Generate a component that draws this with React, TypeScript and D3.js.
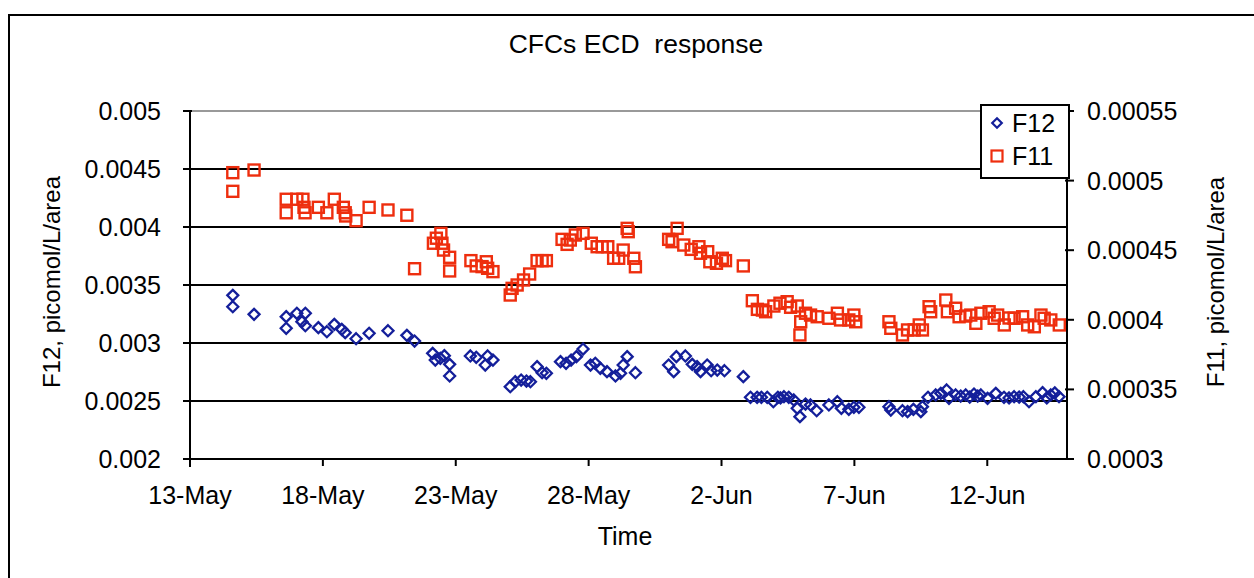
import React from "react";
import * as d3 from "d3";

// Time expressed as fractional day of May (32 = 1 Jun)
const f12Time = [
  14.61, 14.61, 15.41, 16.62, 16.62, 17.02, 17.21, 17.34, 17.34, 17.83, 18.15, 18.43, 18.71, 18.84, 19.25, 19.74,
  20.45, 21.16, 21.45, 22.13, 22.23, 22.42, 22.57, 22.77, 22.77, 23.55, 23.77, 24.11, 24.2, 24.4, 25.05, 25.24,
  25.46, 25.66, 25.81, 26.06, 26.25, 26.41, 26.94, 27.15, 27.34, 27.54, 27.79, 28.07, 28.25, 28.44, 28.69, 29.01,
  29.2, 29.3, 29.45, 29.76, 31.01, 31.2, 31.3, 31.64, 31.9, 32.08, 32.21, 32.46, 32.61, 32.84, 33.11, 33.82,
  34.09, 34.34, 34.5, 34.72, 34.95, 35.12, 35.22, 35.35, 35.53, 35.72, 35.85, 35.95, 36.16, 36.35, 36.58, 37.04,
  37.36, 37.51, 37.79, 37.98, 38.17, 39.3, 39.37, 39.81, 40.0, 40.22, 40.5, 40.56, 40.77, 41.06, 41.25, 41.47,
  41.56, 41.81, 42.0, 42.19, 42.34, 42.5, 42.64, 42.76, 43.01, 43.32, 43.63, 43.82, 44.01, 44.2, 44.36, 44.57,
  44.83, 45.08, 45.24, 45.39, 45.54, 45.7,
];
const f12Value = [
  0.003411, 0.003313, 0.003247, 0.003227, 0.003127, 0.003256, 0.003184, 0.003256, 0.003149, 0.003132, 0.003097,
  0.003161, 0.003118, 0.003089, 0.003037, 0.003084, 0.003106, 0.003066, 0.003017, 0.002911, 0.002853, 0.002868,
  0.002891, 0.002816, 0.002716, 0.002888, 0.002877, 0.00281, 0.002888, 0.002853, 0.002623, 0.002666, 0.002681,
  0.002672, 0.002666, 0.002796, 0.002744, 0.002739, 0.002839, 0.002825, 0.002853, 0.002882, 0.002948, 0.00281,
  0.002825, 0.002782, 0.002753, 0.002716, 0.002739, 0.00281, 0.002882, 0.002744, 0.00281, 0.002753, 0.002882,
  0.002888, 0.002816, 0.002796, 0.002753, 0.00281, 0.002761, 0.002767, 0.002761, 0.00271, 0.002532, 0.002532,
  0.002532, 0.002532, 0.002494, 0.002532, 0.002526, 0.002537, 0.002532, 0.002509, 0.002437, 0.002365, 0.002474,
  0.002466, 0.002416, 0.002466, 0.002494, 0.002437, 0.002428, 0.002446, 0.002446, 0.002451, 0.002422, 0.002416,
  0.002408, 0.002428, 0.002408, 0.002451, 0.002532, 0.002552, 0.002566, 0.002595, 0.002523, 0.002552, 0.002543,
  0.002552, 0.002534, 0.00256, 0.002543, 0.002552, 0.002523, 0.002566, 0.002532, 0.002526, 0.002537, 0.002534,
  0.002537, 0.002494, 0.002537, 0.002572, 0.002526, 0.002552, 0.00257, 0.002537,
];

const f11Time = [
  14.61, 15.41, 14.61, 16.62, 16.62, 17.02, 17.25, 17.29, 17.33, 17.83, 18.15, 18.43, 18.77, 18.84, 18.86, 19.25,
  19.74, 20.45, 21.16, 21.45, 22.16, 22.27, 22.44, 22.48, 22.54, 22.77, 22.77, 23.57, 23.77, 23.99, 24.15, 24.2,
  24.4, 25.05, 25.12, 25.31, 25.55, 25.78, 26.06, 26.25, 26.41, 27.0, 27.19, 27.31, 27.5, 27.79, 28.1, 28.32,
  28.51, 28.72, 28.94, 29.13, 29.3, 29.45, 29.49, 29.7, 29.76, 31.01, 31.14, 31.33, 31.58, 31.86, 32.15, 32.21,
  32.48, 32.56, 32.81, 33.03, 33.15, 33.82, 34.16, 34.35, 34.54, 34.66, 34.97, 35.2, 35.47, 35.6, 35.85, 35.98,
  35.95, 36.16, 36.35, 36.6, 37.04, 37.36, 37.48, 37.79, 37.98, 38.05, 39.3, 39.37, 39.81, 40.0, 40.25, 40.44,
  40.56, 40.81, 40.87, 41.44, 41.5, 41.81, 41.94, 42.19, 42.38, 42.57, 42.76, 43.07, 43.26, 43.39, 43.64, 43.82,
  44.01, 44.33, 44.52, 44.77, 45.02, 45.14, 45.39, 45.71,
];
const f11Value = [
  0.0005057, 0.0005076, 0.0004923, 0.0004866, 0.0004769, 0.0004866, 0.0004866, 0.0004808, 0.0004769, 0.0004808,
  0.0004769, 0.0004866, 0.0004808, 0.0004769, 0.0004746, 0.0004712, 0.0004808, 0.0004789, 0.0004751, 0.0004367,
  0.000455, 0.0004586, 0.0004621, 0.000455, 0.0004501, 0.0004449, 0.0004351, 0.0004425, 0.0004387, 0.0004382,
  0.0004417, 0.000437, 0.0004346, 0.0004178, 0.0004226, 0.000425, 0.0004286, 0.0004329, 0.0004425, 0.0004425,
  0.0004425, 0.0004578, 0.0004542, 0.0004573, 0.0004609, 0.0004621, 0.000455, 0.0004525, 0.0004525, 0.0004525,
  0.0004442, 0.0004442, 0.0004501, 0.0004657, 0.0004633, 0.0004442, 0.0004381, 0.0004578, 0.0004561, 0.0004657,
  0.0004537, 0.0004506, 0.0004525, 0.0004478, 0.0004489, 0.0004417, 0.0004406, 0.0004442, 0.0004425, 0.0004387,
  0.0004137, 0.0004075, 0.000407, 0.0004058, 0.0004099, 0.0004119, 0.000413, 0.000409, 0.0004099, 0.0003986,
  0.0003891, 0.0004047, 0.0004034, 0.0004022, 0.0004011, 0.0004047, 0.0003999, 0.0003999, 0.0004034, 0.0003986,
  0.0003986, 0.0003939, 0.0003891, 0.0003927, 0.0003927, 0.0003963, 0.0003927, 0.0004094, 0.0004058, 0.0004142,
  0.0004058, 0.0004083, 0.0004022, 0.0004027, 0.0004034, 0.0003975, 0.0004047, 0.0004058, 0.0004011, 0.0004034,
  0.0003963, 0.0004013, 0.0004011, 0.0004022, 0.0003963, 0.000395, 0.0004034, 0.0004011, 0.0003999, 0.0003963,
];

const leftTicks = [0.002, 0.0025, 0.003, 0.0035, 0.004, 0.0045, 0.005];
const rightTicks = [0.0003, 0.00035, 0.0004, 0.00045, 0.0005, 0.00055];
const xTickDays = [13, 18, 23, 28, 33, 38, 43];
const seriesNames = ["F12", "F11"];

const YEAR = 2003;
const toDate = (mayDay: number) => new Date(new Date(YEAR, 4, 1).getTime() + (mayDay - 1) * 86400000);

const FONT = "'Liberation Sans', Arial, sans-serif";
const BLUE = "#141f9a";
const RED = "#ee2e0e";

const fmtLeft = (v: number) => String(+v.toPrecision(3));
const fmtRight = (v: number) => String(+v.toPrecision(3));
const fmtX = d3.timeFormat("%-d-%b");

export default function App() {
  const L = 190, R = 1067, T = 111, B = 459;
  const x = d3.scaleTime().domain([toDate(13), toDate(46)]).range([L, R]);
  const yL = d3.scaleLinear().domain([0.002, 0.005]).range([B, T]);
  const yR = d3.scaleLinear().domain([0.0003, 0.00055]).range([B, T]);

  const diamond = (cx: number, cy: number, r = 5.5) => `M${cx},${cy - r}L${cx + r},${cy}L${cx},${cy + r}L${cx - r},${cy}Z`;
  const sq = 11;

  return (
    <svg width={1254} height={578} style={{ position: "absolute", left: 0, top: 0, background: "#fff" }} fontFamily={FONT}>
      <rect x={0} y={0} width={1254} height={578} fill="#fff" />
      <rect x={9} y={15} width={1270} height={600} fill="none" stroke="#000" strokeWidth={2} />
      <text x={636} y={53} textAnchor="middle" fontSize={25} style={{ whiteSpace: "pre" }} transform="translate(636,0) scale(1.06,1) translate(-636,0)">
        {"CFCs ECD  response"}
      </text>

      {/* gridlines */}
      {leftTicks.slice(1, -1).map((t) => (
        <line key={"g" + t} x1={L} x2={R} y1={yL(t)} y2={yL(t)} stroke="#000" strokeWidth={2} />
      ))}
      <line x1={L} x2={R} y1={yL(0.005)} y2={yL(0.005)} stroke="#999" strokeWidth={2} />

      {/* axes */}
      <line x1={L} x2={R} y1={B} y2={B} stroke="#000" strokeWidth={2} />
      <line x1={L} x2={L} y1={T} y2={B + 8} stroke="#000" strokeWidth={2} />
      <line x1={R} x2={R} y1={T} y2={B} stroke="#000" strokeWidth={2} />

      {leftTicks.map((t) => (
        <g key={"l" + t}>
          <line x1={L - 7} x2={L + 2} y1={yL(t)} y2={yL(t)} stroke="#000" strokeWidth={2} />
          <text x={161} y={yL(t) + 9} textAnchor="end" fontSize={25}>{fmtLeft(t)}</text>
        </g>
      ))}
      {rightTicks.map((t) => (
        <g key={"r" + t}>
          <line x1={R - 2} x2={R + 7} y1={yR(t)} y2={yR(t)} stroke="#000" strokeWidth={2} />
          <text x={1087} y={yR(t) + 9} textAnchor="start" fontSize={25}>{fmtRight(t)}</text>
        </g>
      ))}
      {xTickDays.map((d) => (
        <g key={"x" + d}>
          <line x1={x(toDate(d))} x2={x(toDate(d))} y1={B} y2={B + 7} stroke="#000" strokeWidth={2} />
          <text x={x(toDate(d))} y={504} textAnchor="middle" fontSize={25}>{fmtX(toDate(d))}</text>
        </g>
      ))}

      <text x={625} y={545} textAnchor="middle" fontSize={25}>Time</text>
      <text transform={`translate(60,${(T + B) / 2 - 3}) rotate(-90)`} textAnchor="middle" fontSize={24}>F12, picomol/L/area</text>
      <text transform={`translate(1224,${(T + B) / 2 - 3}) rotate(-90)`} textAnchor="middle" fontSize={24}>F11, picomol/L/area</text>

      {/* series */}
      {f11Time.map((t, i) => (
        <rect key={"r" + i} x={x(toDate(t)) - sq / 2} y={yR(f11Value[i]) - sq / 2} width={sq} height={sq} fill="none" stroke={RED} strokeWidth={2.4} />
      ))}
      {f12Time.map((t, i) => (
        <path key={"d" + i} d={diamond(x(toDate(t)), yL(f12Value[i]))} fill="none" stroke={BLUE} strokeWidth={2.3} />
      ))}

      {/* legend */}
      <rect x={981} y={105} width={88} height={73} fill="#fff" stroke="#000" strokeWidth={2} />
      <path d={diamond(997, 123, 4.8)} fill="none" stroke={BLUE} strokeWidth={2.2} />
      <text x={1012} y={132} fontSize={25}>{seriesNames[0]}</text>
      <rect x={997 - 5.5} y={156 - 5.5} width={11} height={11} fill="none" stroke={RED} strokeWidth={2.2} />
      <text x={1012} y={165} fontSize={25}>{seriesNames[1]}</text>
    </svg>
  );
}
